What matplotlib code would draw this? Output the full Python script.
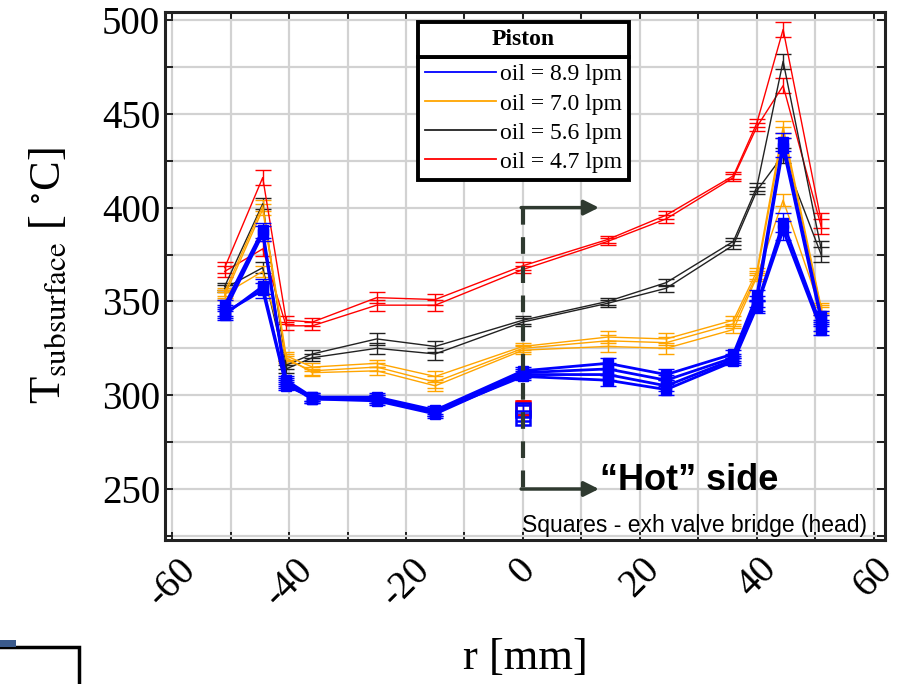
import matplotlib
matplotlib.use("Agg")
import matplotlib.pyplot as plt
from matplotlib.lines import Line2D
from matplotlib.patches import Rectangle
from matplotlib.ticker import MultipleLocator

plt.rcParams["font.family"] = ["Liberation Serif", "DejaVu Serif"]
plt.rcParams["mathtext.fontset"] = "stix"
plt.rcParams["axes.unicode_minus"] = False

# radial measurement positions [mm]
r_pos = [-51, -44.5, -40.5, -36, -25, -15, 0, 14.5, 24.5, 36, 40, 44.5, 51]

# subsurface temperatures [degC], repeated runs per oil flow
blue_runs = [
    [348, 388, 308, 299, 299, 292, 313, 317, 311, 322, 353, 435, 342],
    [345, 386, 307, 298, 298, 291, 312, 314, 308, 320, 350, 432, 340],
    [343, 358, 306, 298, 297, 290, 311, 311, 305, 319, 348, 392, 337],
    [344, 356, 305, 299, 298, 291, 310, 308, 303, 318, 347, 388, 335],
]
orange_runs = [
    [355, 401, 321, 315, 317, 310, 326, 331, 330, 340, 366, 443, 347],
    [353, 399, 319, 313, 315, 307, 325, 329, 328, 338, 364, 440, 346],
    [354, 366, 320, 312, 313, 305, 324, 326, 325, 335, 363, 404, 345],
]
black_runs = [
    [358, 402, 316, 322, 330, 326, 340, 350, 360, 382, 411, 478, 378],
    [357, 368, 314, 320, 325, 322, 339, 349, 357, 380, 409, 428, 375],
]
red_runs = [
    [368, 416, 340, 339, 352, 351, 369, 383, 396, 417, 445, 495, 393],
    [366, 378, 337, 337, 348, 348, 367, 382, 394, 416, 443, 465, 390],
]

blue_err = [3, 4, 2, 2, 2, 2, 2, 3, 3, 2, 3, 5, 3]
orange_err = [2, 3, 2, 2, 2, 3, 2, 3, 3, 2, 2, 3, 2]
black_err = [2, 3, 2, 2, 3, 3, 2, 2, 2, 2, 2, 4, 4]
red_err = [3, 4, 2, 2, 3, 3, 2, 2, 2, 2, 2, 4, 4]

# exhaust valve bridge (head) readings at r = 0
head_r = [0, 0, 0]
head_T = [293, 292, 288]
head_err = [4, 3, 2]
head_colors = ["#ff0000", "#0000ff", "#0000ff"]

legend_title = "Piston"
legend_labels = ["oil = 8.9 lpm", "oil = 7.0 lpm", "oil = 5.6 lpm", "oil = 4.7 lpm"]
series_colors = ["#0000ff", "#ffa500", "#222222", "#ff0000"]

fig = plt.figure(figsize=(9.02, 6.84), dpi=100)
ax = fig.add_axes([0.183, 0.2105, 0.798, 0.772])

for runs, err, col in [(red_runs, red_err, "#ff0000"),
                       (black_runs, black_err, "#222222"),
                       (orange_runs, orange_err, "#ffa500")]:
    for vals in runs:
        ax.errorbar(r_pos, vals, yerr=err, color=col, lw=1.0,
                    elinewidth=1.0, capsize=6, capthick=1.0, zorder=3)

for vals in blue_runs:
    ax.errorbar(r_pos, vals, yerr=blue_err, color="#0000ff", lw=2.0,
                marker="s", ms=7, elinewidth=1.0, capsize=6,
                capthick=1.0, zorder=4)

for x, t, e, c in zip(head_r, head_T, head_err, head_colors):
    ax.errorbar([x], [t], yerr=[e], color=c, marker="s", ms=10, mfc="none",
                mew=1.8, elinewidth=1.0, capsize=5, capthick=1.0, zorder=5)

# hot-side marker: dashed divider with arrows
dark = "#2f3a30"
ax.plot([0, 0], [400, 250], ls=(0, (4, 3)), color=dark, lw=3, zorder=6)
for yv in (400, 250):
    ax.annotate("", xy=(13, yv), xytext=(-0.3, yv),
                arrowprops=dict(arrowstyle="-|>,head_length=0.9,head_width=0.45",
                                color=dark, lw=2.5, shrinkA=0, shrinkB=0),
                zorder=6)

ax.text(13.1, 254.5, "\u201cHot\u201d side", family="Liberation Sans",
        fontweight="bold", fontsize=26, ha="left", va="center", zorder=7)
ax.text(58.8, 230.8, "Squares - exh valve bridge (head)", family="Liberation Sans",
        fontsize=16.5, ha="right", va="center", zorder=7)

ax.set_xlim(-61.2, 61.9)
ax.set_ylim(222.8, 504.3)
ax.xaxis.set_major_locator(MultipleLocator(20))
ax.xaxis.set_minor_locator(MultipleLocator(10))
ax.yaxis.set_major_locator(MultipleLocator(50))
ax.yaxis.set_minor_locator(MultipleLocator(25))
ax.grid(True, which="both", color="#d2d2d2", lw=1.6, zorder=0)
ax.set_axisbelow(True)
ax.tick_params(which="both", direction="in", top=True, right=True,
               length=6, width=1.2, labelsize=28)
ax.tick_params(axis="x", which="major", pad=8)
for lab in ax.get_xticklabels():
    lab.set_rotation(45)
    lab.set_ha("center")
    lab.set_va("top")
for sp in ax.spines.values():
    sp.set_linewidth(2.2)
    sp.set_color("#222222")

ax.set_xlabel("r [mm]", fontsize=32, labelpad=17)
ax.set_ylabel(r"T$_{\mathrm{subsurface}}$ [ $^{\circ}$C]", fontsize=32, labelpad=24)

handles = [Line2D([], [], color=c, lw=1.3) for c in series_colors]
leg = ax.legend(handles, legend_labels, loc="upper left",
                bbox_to_anchor=(0.351, 0.915), borderaxespad=0,
                fontsize=17, handlelength=3.0, handletextpad=0.2,
                labelspacing=0.32, frameon=True, fancybox=False,
                framealpha=1, edgecolor="black", borderpad=0.3)
leg.get_frame().set_linewidth(2.8)
leg.set_zorder(10)

# title cell on top of the legend box
fig.canvas.draw()
renderer = fig.canvas.get_renderer()
lb = leg.get_window_extent(renderer)
inv = fig.transFigure.inverted()
(fx0, fy0), (fx1, fy1) = inv.transform([(lb.x0, lb.y1), (lb.x1, lb.y1 + 35)])
fig.add_artist(Rectangle((fx0, fy0), fx1 - fx0, fy1 - fy0, facecolor="white",
                         edgecolor="black", lw=2.8, transform=fig.transFigure,
                         zorder=11))
fig.text((fx0 + fx1) / 2, (fy0 + fy1) / 2, legend_title, fontsize=17,
         fontweight="bold", ha="center", va="center", zorder=12)

# corner frame fragment at lower left
fig.add_artist(Rectangle((-0.02, -0.05), 0.108, 0.104, fill=False, lw=2.5,
                         edgecolor="black", transform=fig.transFigure))
fig.add_artist(Rectangle((0.0, 0.054), 0.018, 0.011, color="#3a5a8c",
                         transform=fig.transFigure, lw=0))

fig.savefig("out.png", dpi=100)
